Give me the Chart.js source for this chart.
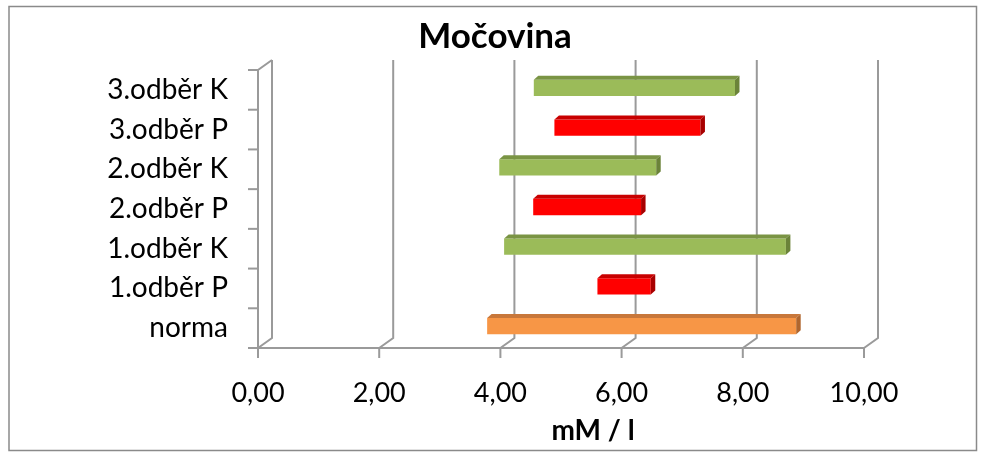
<!DOCTYPE html>
<html>
<head>
<meta charset="utf-8">
<script src="https://cdn.jsdelivr.net/npm/chart.js@4/dist/chart.umd.min.js"></script>
<style>
  html, body { margin: 0; padding: 0; background: #fff; }
  #wrap { width: 985px; height: 455px; position: relative; }
</style>
</head>
<body>
<div id="wrap"><canvas id="c" width="985" height="455"></canvas></div>
<script>
// ---- data ----
const categories = ['3.odběr K', '3.odběr P', '2.odběr K', '2.odběr P', '1.odběr K', '1.odběr P', 'norma'];
const rangeStart = [4.51, 4.85, 3.94, 4.50, 4.02, 5.56, 3.74];
const rangeEnd   = [7.83, 7.26, 6.53, 6.28, 8.67, 6.44, 8.84];
const xTicks = [0, 2, 4, 6, 8, 10];
const chartTitle = 'Močovina';
const xAxisTitle = 'mM / l';

// ---- styles ----
const faceColors = ['#9BBB59', '#FF0000', '#9BBB59', '#FF0000', '#9BBB59', '#FF0000', '#F79646'];
const topColors  = ['#7A9444', '#C80000', '#7A9444', '#C80000', '#7A9444', '#C80000', '#C8773A'];
const sideColors = ['#6B8339', '#A80000', '#6B8339', '#A80000', '#6B8339', '#A80000', '#B0662E'];
const LINE = '#9a9a9a';
const DEPTH_X = 14, DEPTH_Y = 10;       // wall depth
const BAR_DX = 4.5, BAR_DY = 4;         // bar depth
const BAR_SHIFT_X = 2.5, BAR_SHIFT_Y = -2; // bar front plane offset
const FONT = 'Lato, "Open Sans", sans-serif';

const plot3d = {
  id: 'plot3d',
  beforeDraw(chart) {
    const ctx = chart.ctx;
    ctx.save();
    ctx.fillStyle = '#fff';
    ctx.fillRect(0, 0, chart.width, chart.height);
    ctx.strokeStyle = '#8a8a8a';
    ctx.lineWidth = 1.5;
    ctx.strokeRect(9, 6.5, 967.5, 444);
    // title
    ctx.fillStyle = '#000';
    ctx.font = 'bold 35px ' + FONT;
    ctx.textAlign = 'center';
    ctx.textBaseline = 'middle';
    ctx.fillText(chartTitle, 495, 37);
    // axis title
    ctx.font = 'bold 28px ' + FONT;
    ctx.fillText(xAxisTitle, 593, 431);
    ctx.restore();
  },
  beforeDatasetsDraw(chart) {
    const ctx = chart.ctx;
    const xs = chart.scales.x, ys = chart.scales.y;
    const top = chart.chartArea.top, bottom = chart.chartArea.bottom;
    const left = xs.getPixelForValue(0);
    ctx.save();
    ctx.strokeStyle = LINE;
    ctx.lineWidth = 2;
    ctx.lineCap = 'butt';
    // back wall gridlines with floor diagonals
    xTicks.forEach(v => {
      const p = xs.getPixelForValue(v);
      ctx.beginPath();
      ctx.moveTo(p + DEPTH_X, top - DEPTH_Y);
      ctx.lineTo(p + DEPTH_X, bottom - DEPTH_Y);
      ctx.lineTo(p, bottom);
      ctx.stroke();
      // x tick marks
      ctx.beginPath();
      ctx.moveTo(p, bottom);
      ctx.lineTo(p, bottom + 10);
      ctx.stroke();
    });
    // left front wall edge
    ctx.beginPath();
    ctx.moveTo(left + DEPTH_X, top - DEPTH_Y);
    ctx.lineTo(left, top);
    ctx.lineTo(left, bottom);
    ctx.stroke();
    // front x axis line
    ctx.beginPath();
    ctx.moveTo(left - 10, bottom);
    ctx.lineTo(xs.getPixelForValue(10), bottom);
    ctx.stroke();
    // y tick marks at category boundaries
    for (let i = 0; i <= categories.length; i++) {
      const y = ys.getPixelForValue(i - 0.5);
      ctx.beginPath();
      ctx.moveTo(left - 10, y);
      ctx.lineTo(left, y);
      ctx.stroke();
    }
    ctx.restore();
    ctx.save();
    ctx.translate(BAR_SHIFT_X, BAR_SHIFT_Y);
  },
  afterDatasetsDraw(chart) {
    const ctx = chart.ctx;
    const meta = chart.getDatasetMeta(0);
    meta.data.forEach((bar, i) => {
      const p = bar.getProps(['x', 'y', 'base', 'height'], true);
      const x0 = Math.min(p.x, p.base), x1 = Math.max(p.x, p.base);
      const yt = p.y - p.height / 2, yb = p.y + p.height / 2;
      // top face
      ctx.fillStyle = topColors[i];
      ctx.beginPath();
      ctx.moveTo(x0, yt);
      ctx.lineTo(x0 + BAR_DX, yt - BAR_DY);
      ctx.lineTo(x1 + BAR_DX, yt - BAR_DY);
      ctx.lineTo(x1, yt);
      ctx.closePath();
      ctx.fill();
      // right face
      ctx.fillStyle = sideColors[i];
      ctx.beginPath();
      ctx.moveTo(x1, yt);
      ctx.lineTo(x1 + BAR_DX, yt - BAR_DY);
      ctx.lineTo(x1 + BAR_DX, yb - BAR_DY);
      ctx.lineTo(x1, yb);
      ctx.closePath();
      ctx.fill();
    });
    ctx.restore();
  }
};

new Chart(document.getElementById('c'), {
  type: 'bar',
  data: {
    labels: categories,
    datasets: [{
      data: categories.map((c, i) => [rangeStart[i], rangeEnd[i]]),
      backgroundColor: faceColors,
      borderWidth: 0,
      barPercentage: 0.41,
      categoryPercentage: 1.0
    }]
  },
  options: {
    indexAxis: 'y',
    responsive: false,
    animation: false,
    devicePixelRatio: 1,
    layout: { padding: { left: 0, top: 70, right: 121, bottom: 0 } },
    plugins: { legend: { display: false }, tooltip: { enabled: false }, title: { display: false } },
    scales: {
      x: {
        type: 'linear',
        min: 0, max: 10,
        afterBuildTicks(scale) { scale.ticks = xTicks.map(v => ({ value: v })); },
        grid: { display: false, drawTicks: false },
        border: { display: false },
        ticks: {
          padding: 29,
          color: '#000',
          font: { family: FONT, size: 27 },
          maxRotation: 0,
          callback: v => Number(v).toFixed(2).replace('.', ',')
        },
        afterFit(scale) { scale.height = 107; }
      },
      y: {
        type: 'category',
        grid: { display: false, drawTicks: false },
        border: { display: false },
        ticks: {
          padding: 30,
          color: '#000',
          font: { family: FONT, size: 28 }
        },
        afterFit(scale) { scale.width = 258; }
      }
    }
  },
  plugins: [plot3d]
});
</script>
</body>
</html>
